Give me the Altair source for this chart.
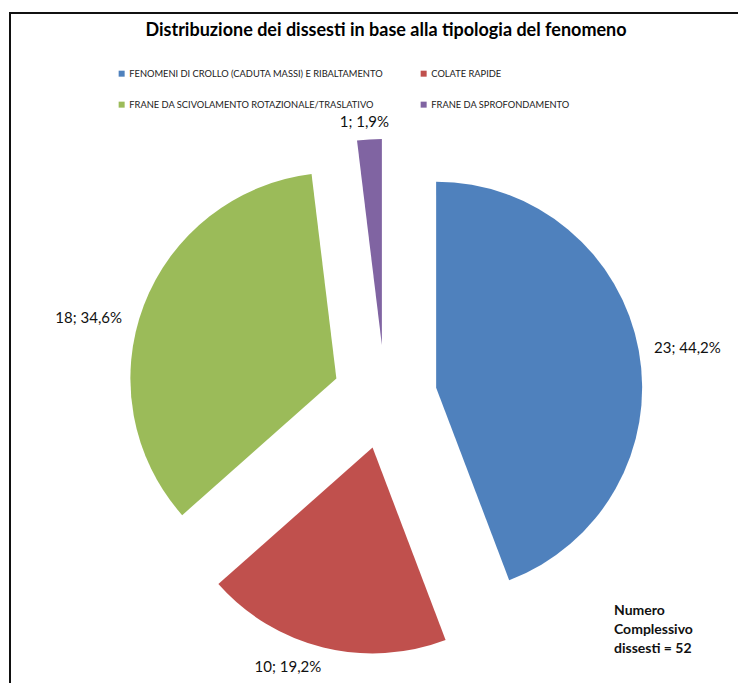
import altair as alt
import pandas as pd

# ---------------- data ----------------
categories = [
    "FENOMENI DI CROLLO (CADUTA MASSI)  E RIBALTAMENTO",
    "COLATE RAPIDE",
    "FRANE DA SCIVOLAMENTO ROTAZIONALE/TRASLATIVO",
    "FRANE DA SPROFONDAMENTO",
]
counts = [23, 10, 18, 1]
colors = ["#4F81BD", "#C0504D", "#9BBB59", "#8064A2"]

title_text = "Distribuzione dei dissesti  in base alla tipologia del fenomeno"
note_lines = ["Numero", "Complessivo", "dissesti = 52"]

# ---------------- layout / style ----------------
W, H = 730, 675
CX, CY = 377, 389          # pie centre (chart pixels)
R = 206                    # pie radius
EXPLODE = 52               # radial offset of every slice
label_pad = [13, 20, 13, 9]                # gap between slice edge and its data label
label_nudge_deg = [1.4, 7.2, -7.0, -1.0]   # small angular shift of each data label
FONT = "Lato"

# legend lists entries column by column: put the two left-column items first
legend_order = [0, 2, 1, 3]
legend_domain = [categories[i] for i in legend_order]
legend_range = [colors[i] for i in legend_order]

df = pd.DataFrame({
    "cat": categories,
    "n": counts,
    "order": list(range(len(categories))),
    "nudge": label_nudge_deg,
    "pad": label_pad,
})

base = (
    alt.Chart(df)
    .transform_joinaggregate(total="sum(n)")
    .transform_window(cum="sum(n)", sort=[alt.SortField("order")], frame=[None, 0])
    .transform_calculate(a0="(datum.cum - datum.n) / datum.total * 2 * PI")
    .transform_calculate(a1="datum.cum / datum.total * 2 * PI")
    .transform_calculate(mid="(datum.a0 + datum.a1) / 2")
    .transform_calculate(px=f"{CX} + {EXPLODE} * sin(datum.mid)")
    .transform_calculate(py=f"{CY} - {EXPLODE} * cos(datum.mid)")
    .transform_calculate(la="datum.mid + datum.nudge * PI / 180")
    .transform_calculate(pct="datum.n / datum.total * 100")
    .transform_calculate(
        lr=f"{R} + datum.pad + min(35 / abs(sin(datum.la)), 9 / abs(cos(datum.la)))"
    )
    .transform_calculate(
        label="datum.n + '; ' + replace(format(datum.pct, '.1f'), '.', ',') + '%'"
    )
    .transform_calculate(lx="datum.px + datum.lr * sin(datum.la)")
    .transform_calculate(ly="datum.py - datum.lr * cos(datum.la)")
)

arcs = base.mark_arc(radius=R).encode(
    x=alt.X("px:Q", scale=None, axis=None),
    y=alt.Y("py:Q", scale=None, axis=None),
    theta=alt.Theta("a0:Q", scale=None, stack=None),
    theta2="a1:Q",
    color=alt.Color(
        "cat:N",
        scale=alt.Scale(domain=legend_domain, range=legend_range),
        legend=alt.Legend(
            title=None,
            orient="none",
            legendX=109,
            legendY=61,
            columns=2,
            symbolType="square",
            symbolSize=36,
            symbolStrokeWidth=0,
            labelFont=FONT,
            labelFontSize=9.3,
            labelColor="#222222",
            labelOffset=3,
            labelLimit=400,
            columnPadding=33,
            rowPadding=21,
            padding=0,
        ),
    ),
)

labels = base.mark_text(font=FONT, fontSize=15, color="#111111", align="center", baseline="middle").encode(
    x=alt.X("lx:Q", scale=None, axis=None),
    y=alt.Y("ly:Q", scale=None, axis=None),
    text="label:N",
)

title = alt.Chart(pd.DataFrame({"t": [title_text]})).mark_text(
    font=FONT, fontSize=18, fontWeight="bold", color="#000000", align="center", baseline="middle"
).encode(x=alt.value(378), y=alt.value(23), text="t:N")

note = alt.Chart(pd.DataFrame({"t": [note_lines]})).mark_text(
    font=FONT, fontSize=14, fontWeight="bold", color="#111111", align="left", baseline="top",
    lineHeight=19,
).encode(x=alt.value(606), y=alt.value(596), text=alt.value(note_lines))

frame_df = pd.DataFrame({"k": [0]})
top_line = alt.Chart(frame_df).mark_rule(color="#111111", strokeWidth=2).encode(
    x=alt.value(2), x2=alt.value(W), y=alt.value(5)
)
left_line = alt.Chart(frame_df).mark_rule(color="#111111", strokeWidth=2).encode(
    x=alt.value(2), y=alt.value(4), y2=alt.value(H)
)

chart = alt.layer(arcs, labels, title, note, top_line, left_line).properties(
    width=W, height=H, padding=0, autosize=alt.AutoSizeParams(type="none")
).configure_view(stroke=None)

chart.save("out.html", embed_options={"renderer": "svg", "actions": False})
